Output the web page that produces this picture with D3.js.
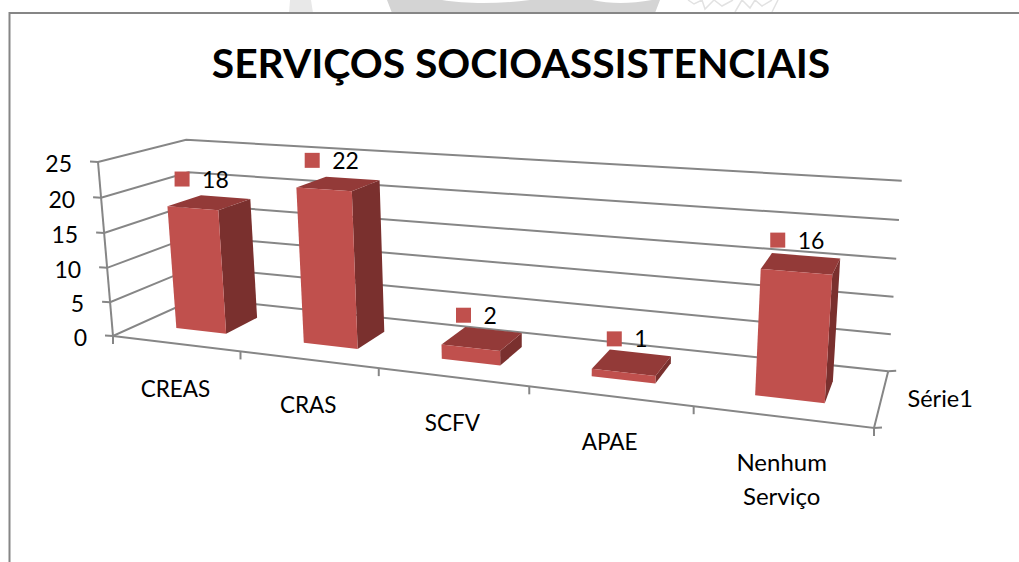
<!DOCTYPE html>
<html>
<head>
<meta charset="utf-8">
<script src="https://cdn.jsdelivr.net/npm/d3@7/dist/d3.min.js"></script>
<style>
    html, body { margin: 0; padding: 0; background: #fff; }
    svg { display: block; }
    text { font-family: Lato, "Open Sans", sans-serif; fill: #000; }
</style>
</head>
<body>
<svg id="grafica" width="1019" height="562"></svg>
<script>
const titulo = 'SERVIÇOS SOCIOASSISTENCIAIS';
const categorias = ['CREAS', 'CRAS', 'SCFV', 'APAE', 'Nenhum Serviço'];
const valores = [18, 22, 2, 1, 16];
const serie = 'Série1';
const ticksValor = [0, 5, 10, 15, 20, 25];

const colorFrente = '#c0504d';
const colorTecho = '#933a38';
const colorLado = '#7a302e';
const colorLinea = '#868686';

const svg = d3.select('#grafica');

/**
 * Proyeccion de la caja 3D al plano de la imagen
 * t: eje de categorias, d: profundidad, v: valor (todos de 0 a 1)
 */
const origen = [113, 336];
const finCategorias = [874, 428];
const finProfundidad = [197, 298];
const finValor = [98, 162];
const wt = -0.195, wd = 0.105, wv = -0.034;

function proyectar(t, d, v) {
    const w = 1 + t * wt + d * wd + v * wv;
    return [0, 1].map(i => (origen[i]
        + t * ((1 + wt) * finCategorias[i] - origen[i])
        + d * ((1 + wd) * finProfundidad[i] - origen[i])
        + v * ((1 + wv) * finValor[i] - origen[i])) / w);
}

const escalaValor = d3.scaleLinear().domain([0, 25]).range([0, 1]);
const escalaCat = d3.scaleBand().domain(categorias).range([0, 1]).paddingInner(0.6).paddingOuter(0.3);
const escalaSerie = d3.scaleBand().domain([serie]).range([0, 1]).paddingInner(0.6).paddingOuter(0.3);
const linea = d3.line();

/**
 * Marca de agua que asoma sobre el marco
 */
const fondo = svg.append('g').attr('fill', '#d4d4d4');
fondo.append('path').attr('fill', '#e8e8e8').attr('d', 'M289,13 L290,0 L311,0 L313,13 Z');
fondo.append('path').attr('d', 'M392,13 L387,0 L442,0 C465,4 500,4 530,0 L592,0 C610,4 630,4 652,0 L660,0 L655,13 Z');
fondo.append('path').attr('fill', 'none').attr('stroke', '#e2e2e2').attr('stroke-width', 1.5)
    .attr('d', 'M688,0 L694,4 L702,0 L705,9 L714,0 L722,6 L733,0 M735,12 L742,0 L750,8 L755,0 L762,6 L772,0 M778,0 L772,12');

// marco
svg.append('path')
    .attr('d', 'M9.5,562 V13 H1019')
    .attr('fill', 'none')
    .attr('stroke', colorLinea)
    .attr('stroke-width', 2);

// titulo
svg.append('text')
    .attr('x', 521)
    .attr('y', 78)
    .attr('text-anchor', 'middle')
    .attr('font-size', 40.8)
    .attr('font-weight', 700)
    .text(titulo);

/**
 * Rejilla y ejes
 */
const ejes = svg.append('g')
    .attr('fill', 'none')
    .attr('stroke', colorLinea)
    .attr('stroke-width', 2);

ticksValor.forEach(tick => {
    const v = escalaValor(tick);
    const p = proyectar(0, 0, v);
    ejes.append('path').attr('d', linea([[p[0] - 8, p[1] - 0.5], p, proyectar(0, 1, v), proyectar(1, 1, v)]));
    svg.append('text')
        .attr('x', p[0] - 26)
        .attr('y', p[1] + 2)
        .attr('dy', '0.35em')
        .attr('text-anchor', 'end')
        .attr('font-size', 23)
        .text(tick);
});

// eje vertical, borde frontal y borde derecho del piso
ejes.append('path').attr('d', linea([proyectar(0, 0, 0), proyectar(0, 0, 1)]));
ejes.append('path').attr('d', linea([proyectar(0, 0, 0), proyectar(1, 0, 0), proyectar(1, 1, 0)]));

// marcas del eje de categorias
d3.range(categorias.length + 1).forEach(i => {
    const p = proyectar(i / categorias.length, 0, 0);
    ejes.append('path').attr('d', linea([p, [p[0], p[1] + 8]]));
});

// marcas del eje de series
[0, 1].forEach(d => {
    const p = proyectar(1, d, 0);
    ejes.append('path').attr('d', linea([p, [p[0] + 8, p[1] - 0.5]]));
});

/**
 * Barras: lado, techo y frente
 */
const barras = svg.append('g')
    .selectAll('g')
    .data(categorias)
    .join('g');

const t0 = c => escalaCat(c);
const t1 = c => escalaCat(c) + escalaCat.bandwidth();
const d0 = escalaSerie(serie);
const d1 = d0 + escalaSerie.bandwidth();
const alto = (c, i) => escalaValor(valores[i]);
const cara = puntos => linea(puntos) + 'Z';

barras.append('path')
    .attr('fill', colorLado)
    .attr('d', (c, i) => cara([proyectar(t1(c), d0, 0), proyectar(t1(c), d1, 0), proyectar(t1(c), d1, alto(c, i)), proyectar(t1(c), d0, alto(c, i))]));

barras.append('path')
    .attr('fill', colorTecho)
    .attr('d', (c, i) => cara([proyectar(t0(c), d0, alto(c, i)), proyectar(t1(c), d0, alto(c, i)), proyectar(t1(c), d1, alto(c, i)), proyectar(t0(c), d1, alto(c, i))]));

barras.append('path')
    .attr('fill', colorFrente)
    .attr('d', (c, i) => cara([proyectar(t0(c), d0, 0), proyectar(t1(c), d0, 0), proyectar(t1(c), d0, alto(c, i)), proyectar(t0(c), d0, alto(c, i))]));

/**
 * Etiquetas de datos con su clave de leyenda
 */
categorias.forEach((c, i) => {
    const tCentro = t0(c) + escalaCat.bandwidth() / 2;
    const p = proyectar(tCentro, 0.5, alto(c, i));
    const etiqueta = svg.append('text')
        .attr('y', p[1] - 23)
        .attr('dy', '0.35em')
        .attr('font-size', 23)
        .text(valores[i]);
    const ancho = etiqueta.node().getComputedTextLength();
    const izquierda = p[0] - 7.5 + 5 * tCentro - (29 + ancho) / 2;
    etiqueta.attr('x', izquierda + 27.5);
    svg.append('rect')
        .attr('x', izquierda)
        .attr('y', p[1] - 23.5 - 7.5)
        .attr('width', 15)
        .attr('height', 15)
        .attr('fill', colorFrente);
});

/**
 * Etiquetas de categorias y de la serie
 */
categorias.forEach(c => {
    const p = proyectar(t0(c) + escalaCat.bandwidth() / 2, 0, 0);
    const partes = c.split(' ');
    partes.forEach((parte, j) => {
        svg.append('text')
            .attr('x', p[0])
            .attr('y', p[1] + 46 + j * 34)
            .attr('dy', '0.35em')
            .attr('text-anchor', 'middle')
            .attr('font-size', j || partes.length > 1 ? 24 : 22.5)
            .text(parte);
    });
});

const puntoSerie = proyectar(1, 0.5, 0);
svg.append('text')
    .attr('x', puntoSerie[0] + 26)
    .attr('y', puntoSerie[1] + 1)
    .attr('dy', '0.35em')
    .attr('font-size', 23.5)
    .text(serie);
</script>
</body>
</html>
